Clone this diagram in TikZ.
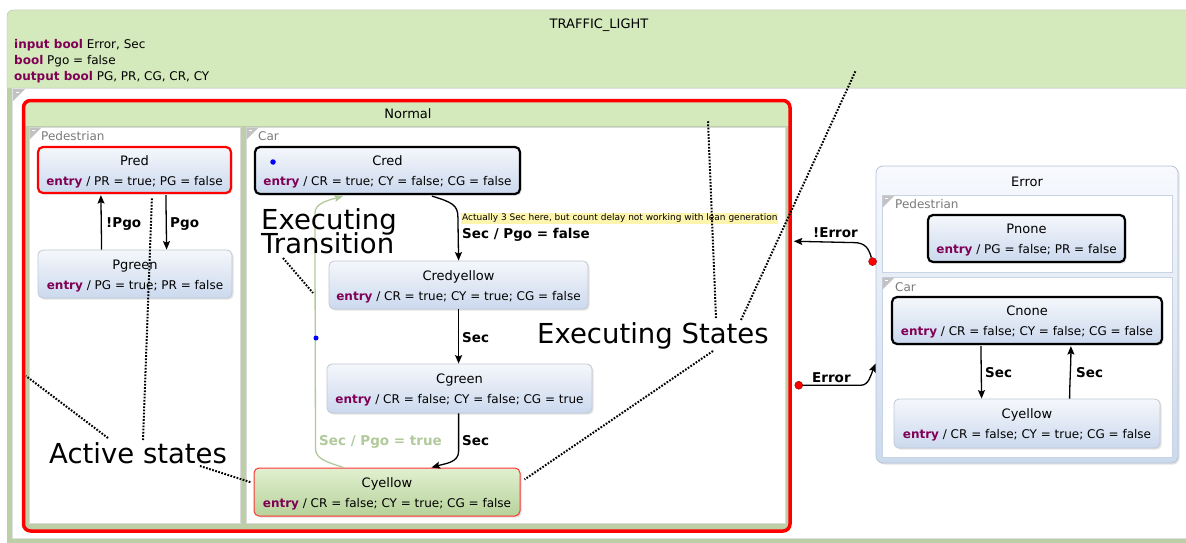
\documentclass[tikz,border=0pt]{standalone}
\usepackage{fontspec}
\setmainfont{DejaVu Sans}
\usetikzlibrary{arrows.meta,shadows,fit,calc}

\definecolor{hdrgreen}{HTML}{D4E9BC}
\definecolor{regiongreen}{HTML}{BDCFA7}
\definecolor{keyword}{HTML}{7F0055}
\definecolor{stateTop}{HTML}{F5F7FB}
\definecolor{stateBot}{HTML}{CBD9EE}
\definecolor{stateLine}{HTML}{BFC8D4}
\definecolor{activeTop}{HTML}{E1F0D0}
\definecolor{activeBot}{HTML}{B7D29B}
\definecolor{errTop}{HTML}{F7F9FD}
\definecolor{errBot}{HTML}{CCDAEE}
\definecolor{errLine}{HTML}{B6C4DA}
\definecolor{errRegion}{HTML}{C8D3E4}
\definecolor{marker}{HTML}{C2C2C2}
\definecolor{labelgray}{HTML}{7A7A7A}
\definecolor{donegreen}{HTML}{B2CA9B}
\definecolor{notebg}{HTML}{FDF4AE}

\newcommand\fsz[1]{\fontsize{#1}{#1}\selectfont}
\newcommand\kw[1]{\textbf{\color{keyword}#1}}
% collapse marker in the top-left corner of a region
\newcommand\regmarker[1]{%
  \fill[marker] (#1) -- ++(12,0) -- ++(-12,12) -- cycle;
  \draw[white, line width=0.8pt] ($(#1)+(2.5,3)$) -- ++(3,0);}
% name and entry action of a state box
\newcommand\statetext[3]{%
  \node[titletxt] (#1-t) at ($(#1.north)+(0,19.5)$) {#2};
  \node[entrytxt] (#1-e) at ($(#1.north)+(0,39.5)$) {\kw{entry} / #3};}

\begin{document}
\begin{tikzpicture}[x=1pt, y=-1pt,
  state/.style={rounded corners=5pt, inner sep=0pt, draw=stateLine, line width=0.8pt,
    top color=stateTop, bottom color=stateBot,
    drop shadow={shadow xshift=1.6pt, shadow yshift=-1.6pt, opacity=0.22}},
  activestate/.style={state, top color=activeTop, bottom color=activeBot, draw=red!80, line width=1pt},
  region/.style={inner sep=0pt, fill=white, draw=black!14, line width=0.6pt},
  errregion/.style={inner sep=0pt, fill=white, draw=errRegion, line width=0.8pt},
  titletxt/.style={anchor=base, inner sep=0pt, font=\fsz{13}},
  entrytxt/.style={anchor=base, inner sep=0pt, font=\fsz{12}},
  regtxt/.style={anchor=base west, inner sep=0pt, font=\fsz{12}, text=labelgray},
  trlabel/.style={anchor=base west, inner sep=0pt, font=\fsz{13.5}\bfseries},
  tr/.style={-{Stealth[length=8.5pt,width=7pt,inset=1.5pt]}, line width=1.3pt},
  bigtxt/.style={anchor=base west, inner sep=0pt, font=\fsz{27.5}},
  annot/.style={line width=2pt, dash pattern=on 1.7pt off 1.5pt},
  reddot/.style={circle, fill=red, draw=red!55!black, line width=0.4pt, minimum size=8pt, inner sep=0pt},
  bluedot/.style={circle, fill=blue, inner sep=0pt, minimum size=5.5pt}]

\useasboundingbox (0,0) rectangle (1186,543);
\fill[white] (0,0) rectangle (1186,543);

% ---------- TRAFFIC_LIGHT ----------
\node[fit={(7,10) (1200,560)}, inner sep=0pt, rounded corners=6pt, fill=regiongreen] (tl) {};
\draw[black!25, fill=hdrgreen] (7,88) [rounded corners=6pt] -- (7,10) -- (1200,10) [sharp corners] -- (1200,88) -- cycle;
\node[fit={(12,88) (1200,538)}, inner sep=0pt, fill=white, draw=black!12, line width=0.6pt] (body) {};
\regmarker{13,89}
\node[titletxt] (tlname) at (599,29) {TRAFFIC\_LIGHT};
\node[entrytxt, anchor=base west] (decl1) at (14,48.5) {\kw{input bool} Error, Sec};
\node[entrytxt, anchor=base west] (decl2) at (14,64.5) {\kw{bool} Pgo = false};
\node[entrytxt, anchor=base west] (decl3) at (14,80.5) {\kw{output bool} PG, PR, CG, CR, CY};

% ---------- Normal ----------
\begin{scope}
  \clip[rounded corners=7pt] (23.5,100.5) rectangle (790,531);
  \fill[regiongreen] (23.5,100.5) rectangle (790,531);
  \fill[hdrgreen] (23.5,100.5) rectangle (790,125.5);
\end{scope}
\node[region, fit={(29,127) (240,523.5)}] (pedreg) {};
\node[region, fit={(246,127) (785,523.5)}] (carreg) {};
\regmarker{29.5,127.5}
\regmarker{246.5,127.5}
\node[regtxt] (pedlbl) at (41,140) {Pedestrian};
\node[regtxt] (carlbl) at (258,140) {Car};
\node[fit={(23.5,100.5) (790,531)}, inner sep=0pt, rounded corners=7pt, draw=red, line width=3.5pt] (normal) {};
\node[titletxt] (normallbl) at (408,118) {Normal};

% Pedestrian states
\node[state, fit={(38,147) (231,193)}, draw=red, line width=2.2pt] (pred) {};
\statetext{pred}{Pred}{PR = true; PG = false}
\node[state, fit={(38,250) (232,298)}] (pgreen) {};
\statetext{pgreen}{Pgreen}{PG = true; PR = false}

\draw[tr] ($(pgreen.north west)+(64,0)$) -- ($(pred.south west)+(64,1)$);
\draw[tr] ($(pred.south west)+(129,1)$) -- ($(pgreen.north west)+(129,0)$);
\node[trlabel] (lnotpgo) at (106,227) {!Pgo};
\node[trlabel] (lpgo) at (170,227) {Pgo};

% Car states
\node[state, fit={(255,147) (520,194)}, draw=black, line width=2.2pt] (cred) {};
\statetext{cred}{Cred}{CR = true; CY = false; CG = false}
\node[bluedot] (initdot) at (273,162) {};
\node[state, fit={(329,261) (588,309)}] (credyellow) {};
\statetext{credyellow}{Credyellow}{CR = true; CY = true; CG = false}
\node[state, fit={(327,364) (592,413)}] (cgreen) {};
\statetext{cgreen}{Cgreen}{CR = false; CY = false; CG = true}
\node[activestate, fit={(254,468) (520,516)}] (cyellowN) {};
\statetext{cyellowN}{Cyellow}{CR = false; CY = true; CG = false}

% Car transitions
\draw[tr] ($(cred.south west)+(178,1)$) .. controls ($(cred.south west)+(198,7)$) and ($(cred.south west)+(204,10)$) .. ($(cred.south west)+(204,22)$) -- ($(credyellow.north west)+(130,0)$);
\node[anchor=west, fill=notebg, inner xsep=1pt, inner ysep=1.5pt, font=\fsz{9}] (note) at (461,218.5) {Actually 3 Sec here, but count delay not working with lean generation};
\node[trlabel] (l1) at (462,238) {Sec / Pgo = false};

\draw[tr] ($(credyellow.south west)+(130,0)$) -- ($(cgreen.north west)+(132,0)$);
\node[trlabel] (l2) at (462,342) {Sec};

\draw[tr] ($(cgreen.south west)+(132,0)$) -- ($(cgreen.south west)+(132,38)$) .. controls ($(cgreen.south west)+(132,49)$) and ($(cyellowN.north west)+(192,-4)$) .. ($(cyellowN.north west)+(178,0)$);
\node[trlabel] (l3) at (462,445) {Sec};

\draw[tr, donegreen] ($(cyellowN.north west)+(90,0)$) .. controls ($(cyellowN.north west)+(68,-7)$) and ($(cyellowN.north west)+(62,-10)$) .. ($(cyellowN.north west)+(62,-20)$) -- ($(cred.south west)+(61,18)$) .. controls ($(cred.south west)+(61,8)$) and ($(cred.south west)+(75,5)$) .. ($(cred.south west)+(89,1)$);
\node[bluedot, minimum size=5pt] (bend) at (316,338) {};
\node[trlabel, text=donegreen] (l4) at (319,445) {Sec / Pgo = true};

% ---------- Error ----------
\node[state, fit={(876,166) (1178,463)}, rounded corners=7pt, top color=errTop, bottom color=errBot, draw=errLine] (error) {};
\node[titletxt] (errorlbl) at (1027,186) {Error};
\node[errregion, fit={(882,195) (1172,272)}] (epedreg) {};
\node[errregion, fit={(882,277) (1172,457)}] (ecarreg) {};
\regmarker{882.5,195.5}
\regmarker{882.5,277.5}
\node[regtxt] (epedlbl) at (895,208) {Pedestrian};
\node[regtxt] (ecarlbl) at (895,291) {Car};

\node[state, fit={(928,215) (1125,262)}, draw=black, line width=2.2pt] (pnone) {};
\statetext{pnone}{Pnone}{PG = false; PR = false}
\node[state, fit={(892,297) (1162,344)}, draw=black, line width=2.2pt] (cnone) {};
\statetext{cnone}{Cnone}{CR = false; CY = false; CG = false}
\node[state, fit={(894,399) (1160,448)}] (cyellowE) {};
\statetext{cyellowE}{Cyellow}{CR = false; CY = true; CG = false}

\draw[tr] ($(cnone.south west)+(90,1)$) -- ($(cyellowE.north west)+(88,0)$);
\draw[tr] ($(cyellowE.north west)+(176,0)$) .. controls ($(cyellowE.north west)+(176,-12)$) and ($(cnone.south west)+(180,18)$) .. ($(cnone.south west)+(180,1)$);
\node[trlabel] (l5) at (985,377) {Sec};
\node[trlabel] (l6) at (1076,377) {Sec};

% Normal <-> Error
\node[reddot] (errout) at ($(error.north west)+(-3,96)$) {};
\draw[tr] (errout) .. controls ($(errout)+(-4,-13)$) and ($(errout)+(-7,-19)$) .. ($(errout)+(-19,-19)$) -- ($(normal.north east)+(2,142.5)$);
\node[trlabel] (l7) at (813,237) {!Error};
\node[reddot] (normout) at ($(normal.north east)+(7,286.5)$) {};
\draw[tr] (normout) -- ($(normout)+(62,0)$) .. controls ($(normout)+(70,0)$) and ($(normout)+(72,-10)$) .. ($(error.north west)+(0,198)$);
\node[trlabel] (l8) at (812,382) {Error};

% ---------- Annotations ----------
\node[bigtxt] (exT1) at (261,229) {Executing};
\node[bigtxt] (exT2) at (261,253.5) {Transition};
\node[bigtxt] (exS) at (537,343) {Executing States};
\node[bigtxt] (act) at (49,463) {Active states};

\coordinate (a1) at (143,440);
\coordinate (a2) at (108,438);
\coordinate (a3) at (200,466);
\coordinate (t1) at (283,258);
\coordinate (s1) at (716,318);
\coordinate (s2) at (741,320);
\coordinate (s3) at (713,351);
\coordinate (predpt) at ($(pred.south west)+(115,4)$);
\coordinate (leftpt) at (26,376);
\coordinate (cyNpt) at ($(cyellowN.north west)+(-2,15)$);
\coordinate (trpt) at (313,293);
\coordinate (carpt) at (708,121);
\coordinate (tlpt) at (856,70);
\coordinate (cyNpt2) at ($(cyellowN.north east)+(4,12)$);

\draw[annot] (a1) -- (predpt);
\draw[annot] (a2) -- (leftpt);
\draw[annot] (a3) -- (cyNpt);
\draw[annot] (t1) -- (trpt);
\draw[annot] (s1) -- (carpt);
\draw[annot] (s2) -- (tlpt);
\draw[annot] (s3) -- (cyNpt2);
\end{tikzpicture}
\end{document}
